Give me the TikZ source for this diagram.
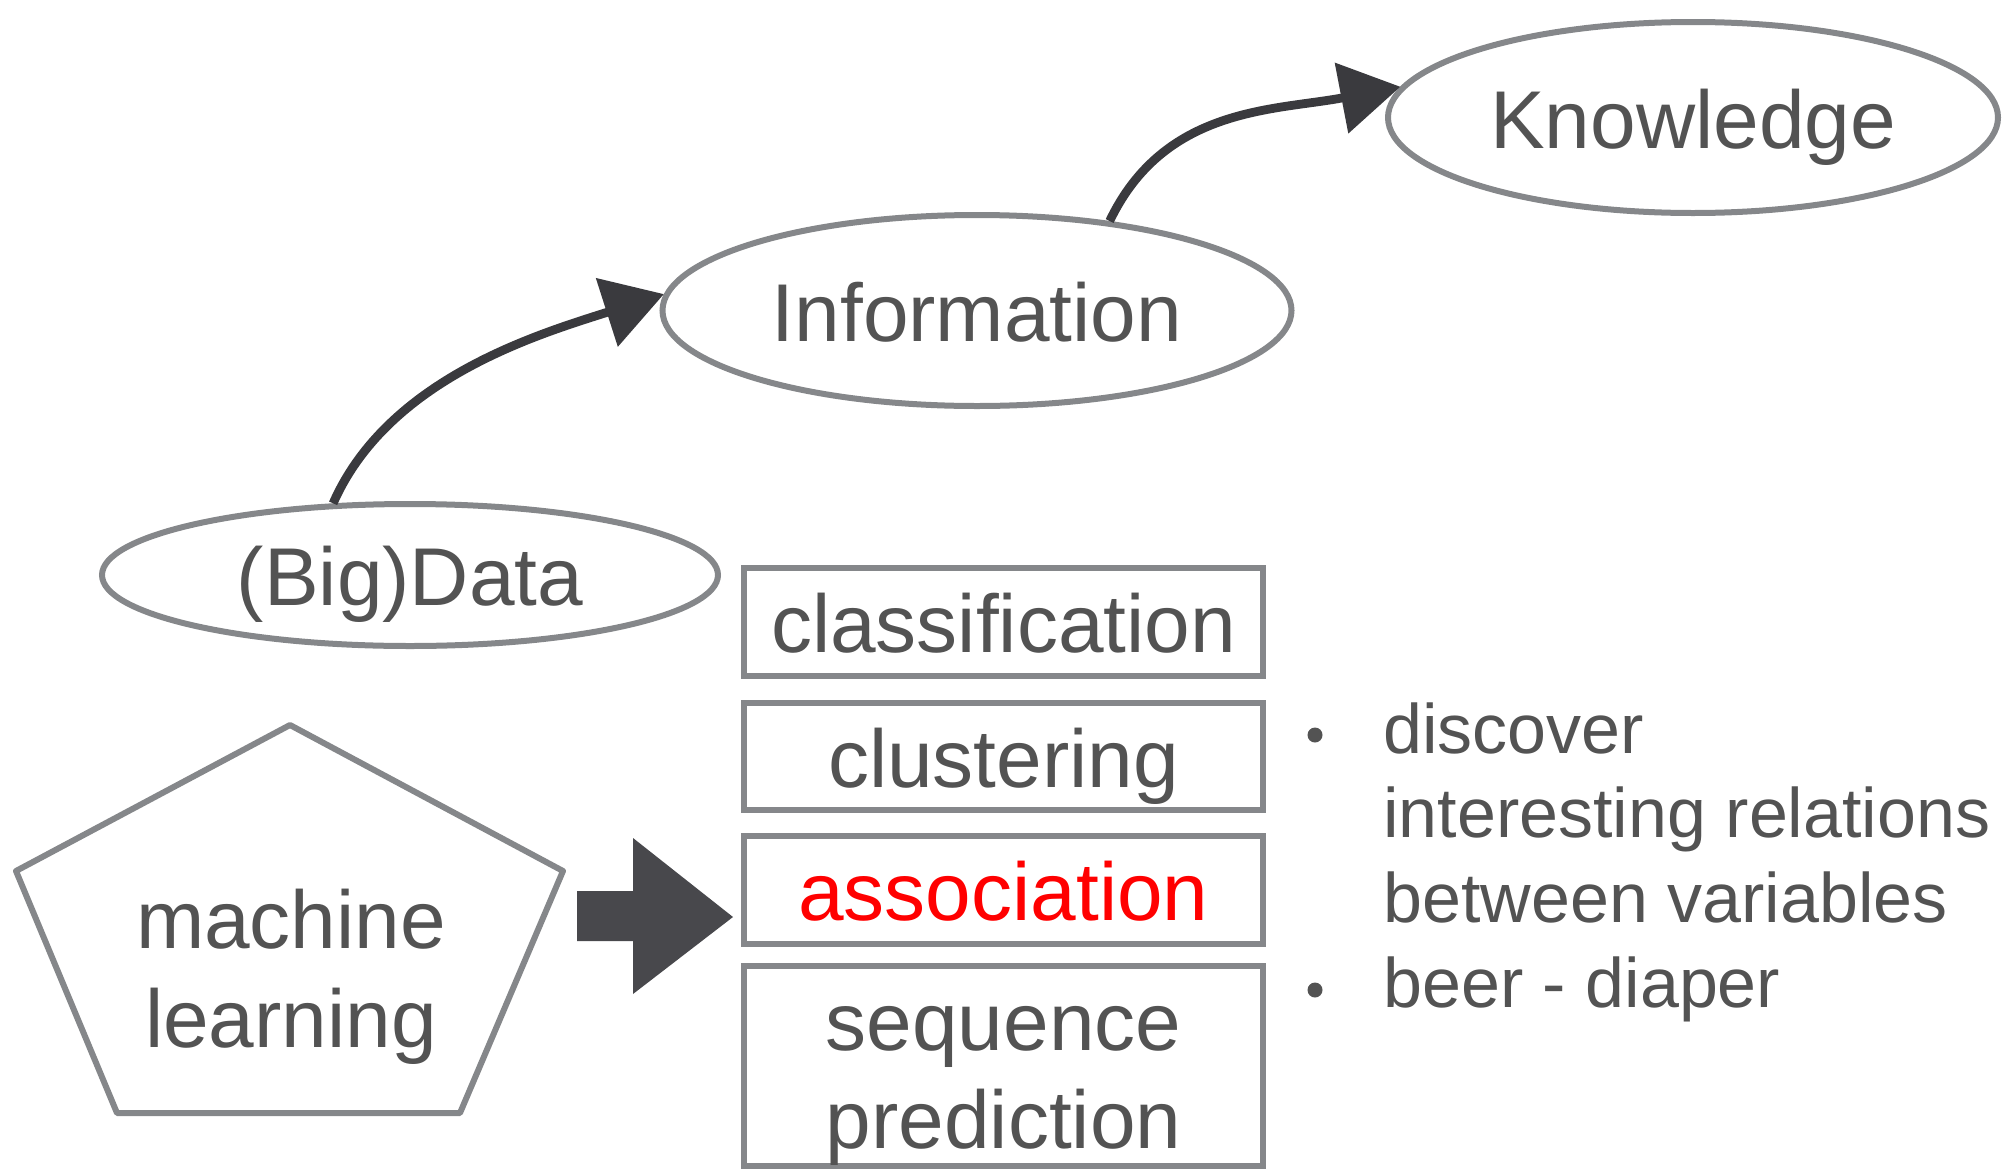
\documentclass[tikz,border=0pt]{standalone}
\usepackage{fontspec}
\setmainfont{Liberation Sans}
\usetikzlibrary{shapes.geometric,arrows.meta}
\definecolor{txtgray}{RGB}{83,83,83}
\definecolor{edgegray}{RGB}{133,135,138}
\definecolor{arrowgray}{RGB}{58,58,62}
\definecolor{blockgray}{RGB}{72,72,76}
\newcommand\fontA{\fontsize{41pt}{49pt}\selectfont}
\newcommand\fontB{\fontsize{35pt}{42pt}\selectfont}
\begin{document}
\begin{tikzpicture}[x=0.5pt,y=-0.5pt,
  ell/.style={ellipse, draw=edgegray, line width=3pt, inner sep=0pt,
    text=txtgray, font=\fontA, text height=30.5pt, text depth=0pt},
  box/.style={rectangle, draw=edgegray, line width=3pt, inner sep=0pt,
    minimum width=259.5pt, text=txtgray, font=\fontA, text height=30.5pt, text depth=0pt},
  lbl/.style={text=txtgray, font=\fontA, inner sep=0pt, anchor=base},
  rlbl/.style={text=txtgray, font=\fontB, inner sep=0pt, anchor=base west},
  arr/.style={-{Triangle[length=30pt,width=35pt]}, line width=4.4pt, draw=arrowgray},
  penta/.style={draw=edgegray, line width=3pt, line join=round},
  blk/.style={fill=blockgray},
  bul/.style={fill=txtgray}
]
\useasboundingbox (0,0) rectangle (2015,1173);

% ellipses
\node[ell, minimum width=305pt, minimum height=95.5pt] (know) at (1693,117.5) {Knowledge};
\node[ell, minimum width=314.5pt, minimum height=95.5pt] (info) at (977,310.5) {Information};
\node[ell, minimum width=308pt, minimum height=71pt] (data) at (410,575) {(Big)Data};

% curved arrows
\draw[arr] (data.137) .. controls +(55,-125) and +(-125,40) .. (info.177);
\draw[arr] (info.34) .. controls +(55,-115) and +(-125,24) .. (know.174);

% task boxes
\node[box, minimum height=54pt] (cls) at (1003.5,622) {classification};
\node[box, minimum height=53.75pt] (clu) at (1003.5,756.5) {clustering};
\node[box, minimum height=54pt, text=red] (asc) at (1003.5,890) {association};
\node[box, minimum height=100pt] (seq) at (1003.5,1066) {};
\node[lbl] (seqa) at (1003.5,1050) {sequence};
\node[lbl] (seqb) at (1003.5,1148) {prediction};

% pentagon
\draw[penta] (290,725) -- (563,871) -- (460,1113) -- (117,1113) -- (16,871) -- cycle;
\node[lbl] (mla) at (291,948) {machine};
\node[lbl] (mlb) at (291,1047) {learning};

% block arrow
\coordinate (tip) at ([xshift=-4pt,yshift=-13.5pt]asc.west);
\fill[blk] (tip) -- ++(-100,-79) -- ++(0,53) -- ++(-56,0) -- ++(0,50)
  -- ++(56,0) -- ++(0,53) -- cycle;

% bullet text
\fill[bul] (1315,735) circle (7.5);
\fill[bul] (1315,990) circle (7.5);
\node[rlbl] (b1) at (1383,753) {discover};
\node[rlbl] (b2) at (1383,837) {interesting relations};
\node[rlbl] (b3) at (1383,922) {between variables};
\node[rlbl] (b4) at (1383,1007) {beer - diaper};
\end{tikzpicture}
\end{document}
